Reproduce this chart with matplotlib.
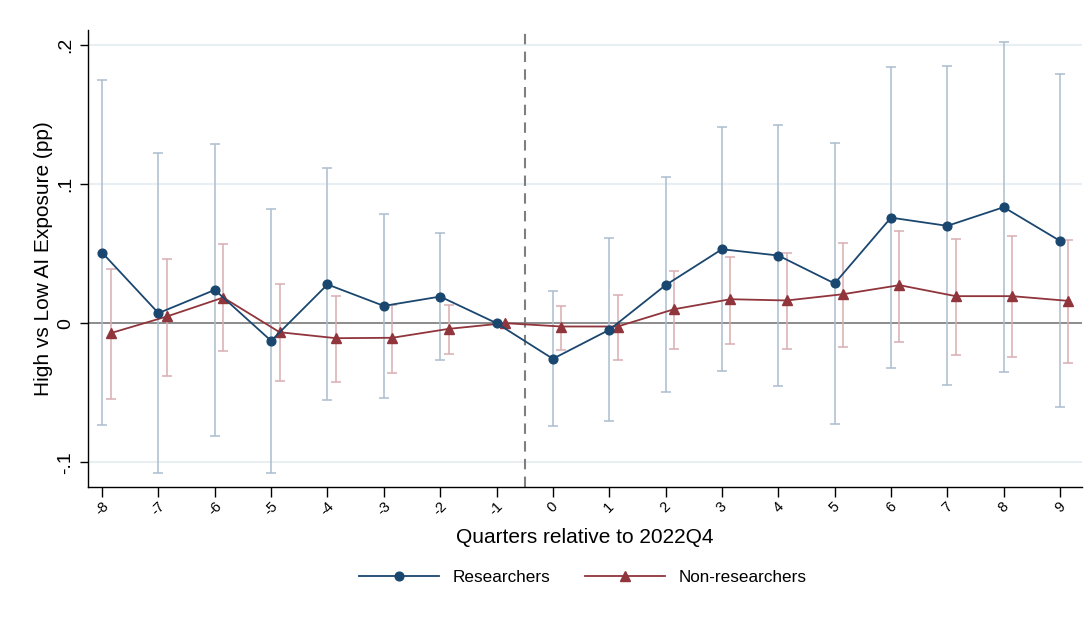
import matplotlib
matplotlib.use("Agg")
import matplotlib.pyplot as plt
import numpy as np

plt.rcParams['font.family'] = ['Liberation Sans', 'DejaVu Sans']

quarters = [-8, -7, -6, -5, -4, -3, -2, -1, 0, 1, 2, 3, 4, 5, 6, 7, 8, 9]
tick_labels = ['-8', '-7', '-6', '-5', '-4', '-3', '-2', '-1', '0', '1', '2', '3', '4', '5', '6', '7', '8', '9']

res_est = [0.0507, 0.0072, 0.0239, -0.0127, 0.0278, 0.0124, 0.0191, 0.0,
           -0.0256, -0.0048, 0.0273, 0.0531, 0.0486, 0.0285, 0.0758, 0.0699, 0.0833, 0.0591]
res_hi = [0.175, 0.122, 0.129, 0.0823, 0.1115, 0.0787, 0.0646, 0.0,
          0.023, 0.0612, 0.1048, 0.1411, 0.1423, 0.1292, 0.1837, 0.1844, 0.2017, 0.179]
res_lo = [-0.0734, -0.1077, -0.0809, -0.1079, -0.0555, -0.0536, -0.0266, 0.0,
          -0.0737, -0.0703, -0.0495, -0.0347, -0.0452, -0.0725, -0.0321, -0.0445, -0.0352, -0.0605]

non_est = [-0.0072, 0.0048, 0.0184, -0.0065, -0.0108, -0.0105, -0.0041, 0.0,
           -0.0024, -0.0024, 0.0100, 0.0172, 0.0163, 0.0208, 0.0273, 0.0194, 0.0194, 0.0160]
non_hi = [0.0388, 0.0464, 0.0572, 0.0278, 0.0194, 0.0129, 0.0129, 0.0,
          0.0124, 0.0203, 0.0376, 0.0478, 0.0502, 0.0577, 0.0665, 0.0605, 0.0624, 0.0598]
non_lo = [-0.0543, -0.0383, -0.0203, -0.0414, -0.0423, -0.0359, -0.0218, 0.0,
          -0.0194, -0.0268, -0.0187, -0.0148, -0.0187, -0.0170, -0.0132, -0.0232, -0.0244, -0.0289]

y_ticks = [-0.1, 0, 0.1, 0.2]
y_tick_labels = ['-.1', '0', '.1', '.2']

navy = '#1a476f'
maroon = '#90353b'
navy_ci = '#abbdd0'
maroon_ci = '#d8aeb1'

W, H = 1092, 624
fig = plt.figure(figsize=(W / 100, H / 100), dpi=100)
ax = fig.add_axes([88 / W, 1 - 487 / H, (1082 - 88) / W, (487 - 30) / H])

x = np.array(quarters, dtype=float)
xn = x + 0.15

re = np.array(res_est); rh = np.array(res_hi); rl = np.array(res_lo)
ne = np.array(non_est); nh = np.array(non_hi); nl = np.array(non_lo)

mask_r = rh != rl
mask_n = nh != nl

# grid and reference lines
for yt in y_ticks:
    if yt != 0:
        ax.axhline(yt, color='#e8eff2', lw=1.5, zorder=0)
ax.axhline(0, color='#8c8c8c', lw=1.4, zorder=1)
ax.axvline(-0.5, color='#7f7f7f', lw=1.5, ls=(0, (5, 3.5)), zorder=1)

ax.errorbar(x[mask_r], re[mask_r], yerr=[re[mask_r] - rl[mask_r], rh[mask_r] - re[mask_r]],
            fmt='none', ecolor=navy_ci, elinewidth=1.1, capsize=3.3, capthick=1.1, zorder=2)
ax.errorbar(xn[mask_n], ne[mask_n], yerr=[ne[mask_n] - nl[mask_n], nh[mask_n] - ne[mask_n]],
            fmt='none', ecolor=maroon_ci, elinewidth=1.1, capsize=3.3, capthick=1.1, zorder=2)

l1, = ax.plot(x, re, color=navy, lw=1.3, marker='o', ms=6.3, zorder=4, label='Researchers')
l2, = ax.plot(xn, ne, color=maroon, lw=1.3, marker='^', ms=6.8, zorder=3, label='Non-researchers')

ax.set_xlim(-8.25, 9.39)
ax.set_ylim(-0.1177, 0.2106)

ax.set_xticks(quarters)
ax.set_xticklabels(tick_labels, rotation=45, ha='center', va='top', fontsize=10.5)
ax.set_yticks(y_ticks)
ax.set_yticklabels(y_tick_labels, rotation=90, va='center', fontsize=14)
ax.tick_params(axis='x', length=7, width=1, pad=2)
ax.tick_params(axis='y', length=6, width=1, pad=4)

for s in ['top', 'right']:
    ax.spines[s].set_visible(False)
for s in ['left', 'bottom']:
    ax.spines[s].set_linewidth(1.0)
    ax.spines[s].set_color('black')

ax.set_xlabel('Quarters relative to 2022Q4', fontsize=15, labelpad=7)
ax.set_ylabel('High vs Low AI Exposure (pp)', fontsize=15, labelpad=3)

fig.legend(handles=[l1, l2], loc='center', bbox_to_anchor=(583 / W, 1 - 577 / H),
           ncol=2, frameon=False, fontsize=12.3, handlelength=4.7, handletextpad=0.8,
           columnspacing=2.0)

fig.savefig('out.png', dpi=100, facecolor='white')
